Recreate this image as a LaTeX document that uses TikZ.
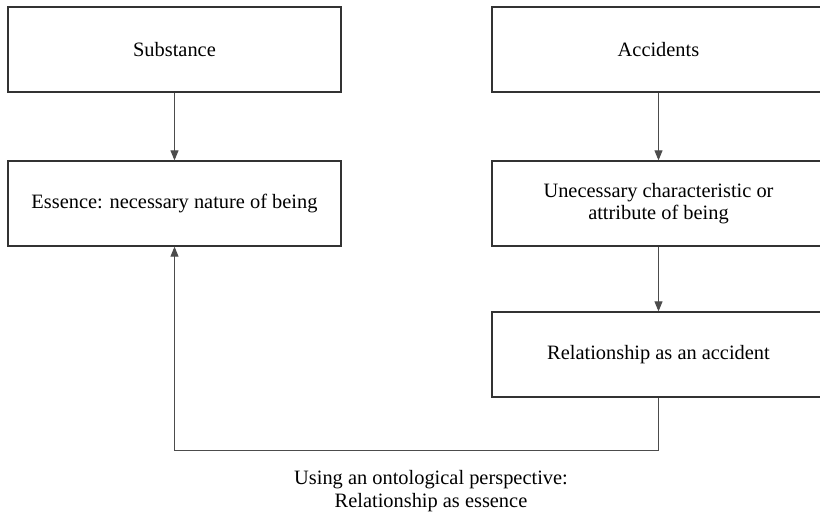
\documentclass[tikz,border=0pt]{standalone}
\usepackage{fontspec}
\setmainfont{LiberationSerif}[Extension=.ttf, UprightFont=*-Regular, BoldFont=*-Bold]
\usetikzlibrary{arrows.meta}
\begin{document}
\begin{tikzpicture}[x=1pt,y=1pt,
  box/.style={draw=black!80, line width=1.3pt, rectangle, minimum width=333pt, minimum height=85pt, inner sep=0pt, align=center, font=\fontsize{20.4}{22}\selectfont},
  conn/.style={draw=black!70, line width=0.9pt, -{Triangle[width=8pt,length=10pt]}}]
\useasboundingbox (0,0) rectangle (820,-515);
\clip (0,0) rectangle (820,-515);
\fill[white] (0,0) rectangle (820,-515);
\node[box] (sub) at (174.5,-49.5) {Substance};
\node[box] (ess) at (174.5,-203.5) {Essence: necessary nature of being};
\node[box] (acc) at (658.5,-49.5) {Accidents};
\node[box] (unn) at (658.5,-203.5) {Unecessary characteristic or\\attribute of being};
\node[box] (rel) at (658.5,-354.5) {Relationship as an accident};
\coordinate (fb) at (174.5,-450);
\node[align=center, font=\fontsize{20.4}{23}\selectfont] (lbl) at (431,-491) {Using an ontological perspective:\\Relationship as essence};
\draw[conn] (sub) -- (ess);
\draw[conn] (acc) -- (unn);
\draw[conn] (unn) -- (rel);
\draw[conn] (rel.south) |- (fb) -- (ess.south);
\end{tikzpicture}
\end{document}
